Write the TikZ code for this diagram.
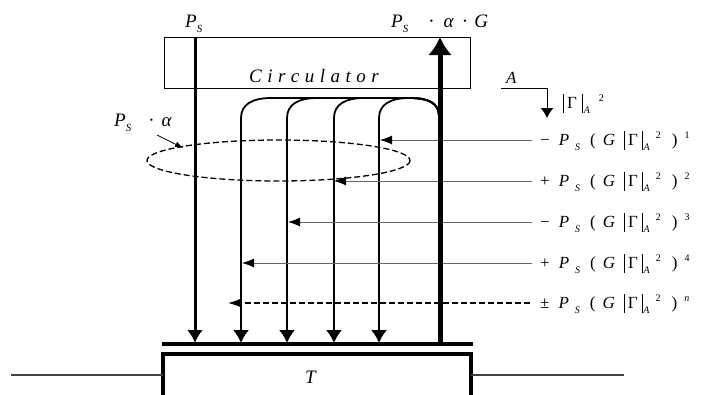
\documentclass[tikz,border=0pt]{standalone}
\usepackage{fontspec}
\setmainfont{Liberation Serif}
\usetikzlibrary{arrows.meta}
\newcommand{\lsub}[1]{\raisebox{-5.5pt}{\fontsize{10}{10}\selectfont\itshape #1}}
\newcommand{\lsup}[1]{\raisebox{6.5pt}{\fontsize{10}{10}\selectfont #1}}
\newcommand{\vbar}{\raisebox{-5pt}{\rule{0.9pt}{19pt}}}
\newcommand{\term}[2]{\fontsize{17}{17}\selectfont #1\hspace{9pt}\textit{P}\hspace{6pt}\lsub{S}\hspace{10pt}(\hspace{7pt}\textit{G}\hspace{9pt}\vbar\hspace{3pt}Γ\hspace{4pt}\vbar\hspace{1pt}\lsub{A}\hspace{6pt}\lsup{2}\hspace{11pt})\hspace{7pt}\lsup{#2}}
\tikzset{
  lbl/.style={inner sep=0pt, anchor=west},
  feed/.style={draw=black!60, line width=0.9pt, -{Latex[length=12pt,width=9pt,color=black]}},
  downarr/.style={-{Latex[length=13pt,width=16pt]}},
  loopline/.style={line width=1.8pt, downarr},
}
\begin{document}
\begin{tikzpicture}[x=1pt,y=-1pt]
\useasboundingbox (0,0) rectangle (712,394);
\clip (0,0) rectangle (712,394);
% coordinates
\coordinate (cTL) at (164,37); \coordinate (cBR) at (470,88);
\coordinate (inTop) at (195,37); \coordinate (inBot) at (195,343);
\coordinate (outBot) at (440,344); \coordinate (outTop) at (440,37);
\coordinate (barL) at (162,344); \coordinate (barR) at (473,344);
\coordinate (tTL) at (163,354); \coordinate (tBR) at (471,420);
\coordinate (lnL) at (11,375); \coordinate (lnLe) at (163,375);
\coordinate (lnR) at (471,375); \coordinate (lnRe) at (624,375);
% circulator box
\draw[line width=1pt] (cTL) rectangle (cBR);
\node[inner sep=0pt] (circ) at (314,76) {\fontsize{19}{19}\selectfont\itshape C\hspace{5.5pt}i\hspace{5.5pt}r\hspace{5.5pt}c\hspace{5.5pt}u\hspace{5.5pt}l\hspace{5.5pt}a\hspace{5.5pt}t\hspace{5.5pt}o\hspace{5.5pt}r};
% loops
\foreach \x in {241,287,334,379}{
  \draw[loopline] (439,116) .. controls (439,103) and (428,98) .. (410,98) -- (\x+30,98) .. controls (\x+12,98) and (\x,104) .. (\x,118) -- (\x,343);
}
% ellipse
\draw[dashed, dash pattern=on 6pt off 3pt, line width=1.3pt] (278.5,160.5) ellipse [x radius=131.5, y radius=20.5];
% feedback arrows
\coordinate (e1) at (380,140); \coordinate (e2) at (334,181); \coordinate (e3) at (288,222); \coordinate (e4) at (242,263); \coordinate (en) at (228,303);
\coordinate (s1) at (532,140); \coordinate (s2) at (532,181); \coordinate (s3) at (532,222); \coordinate (s4) at (532,263); \coordinate (sn) at (530,303);
\draw[feed] (s1) -- (e1);
\draw[feed] (s2) -- (e2);
\draw[feed] (s3) -- (e3);
\draw[feed] (s4) -- (e4);
\draw[line width=1.3pt, dash pattern=on 6pt off 3pt, -{Latex[length=13pt,width=9pt]}] (sn) -- (en);
\node[lbl] (t1) at (540,141) {\term{−}{1}};
\node[lbl] (t2) at (540,182) {\term{+}{2}};
\node[lbl] (t3) at (540,223) {\term{−}{3}};
\node[lbl] (t4) at (540,264) {\term{+}{4}};
\node[lbl] (tn) at (540,304) {\term{±}{\textit{n}}};
% main lines
\draw[line width=3pt, downarr] (inTop) -- (inBot);
\draw[line width=5pt, -{Latex[length=18pt,width=24pt]}] (outBot) -- (outTop);
% bar and T
\draw[line width=4pt] (barL) -- (barR);
\draw[line width=4pt] (tTL) rectangle (tBR);
\node[inner sep=0pt] (T) at (311,377) {\fontsize{19}{19}\selectfont\textit{T}};
\draw[black!75, line width=1.3pt] (lnL) -- (lnLe);
\draw[black!75, line width=1.3pt] (lnR) -- (lnRe);
% top labels
\node[inner sep=0pt, anchor=base west] (pin) at (185,27) {\fontsize{19}{19}\selectfont\textit{P}\hspace{0pt}\raisebox{-5pt}{\fontsize{11}{11}\selectfont\textit{S}}};
\node[inner sep=0pt, anchor=base west] (pout) at (391,27) {\fontsize{19}{19}\selectfont\textit{P}\hspace{0pt}\raisebox{-5pt}{\fontsize{11}{11}\selectfont\textit{S}}\hspace{20pt}·\hspace{9pt}\textit{α}\hspace{8pt}·\hspace{6pt}\textit{G}};
\node[inner sep=0pt, anchor=base west] (palpha) at (114,126) {\fontsize{19}{19}\selectfont\textit{P}\hspace{0pt}\raisebox{-5pt}{\fontsize{11}{11}\selectfont\textit{S}}\hspace{17pt}·\hspace{7pt}\textit{α}};
\coordinate (pa1) at (157,135); \coordinate (pa2) at (183,148);
\draw[line width=0.8pt, -{Latex[length=8pt,width=6pt]}] (pa1) -- (pa2);
% A reflection
\node[inner sep=0pt, anchor=base west] (A) at (506,83) {\fontsize{17}{17}\selectfont\textit{A}};
\coordinate (a1) at (501,88); \coordinate (a2) at (547,88); \coordinate (a3) at (547,118);
\draw[line width=1pt, -{Latex[length=10pt,width=13pt]}] (a1) -- (a2) -- (a3);
\node[inner sep=0pt, anchor=west] (gam) at (563,104) {\fontsize{17}{17}\selectfont\vbar\hspace{3pt}Γ\hspace{5pt}\vbar\hspace{1pt}\lsub{A}\hspace{9pt}\lsup{2}};
\end{tikzpicture}
\end{document}
